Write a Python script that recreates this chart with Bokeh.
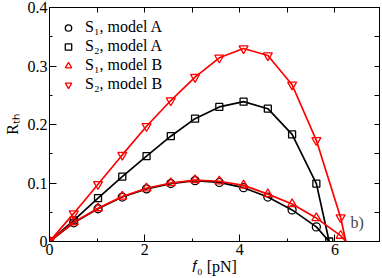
from bokeh.plotting import figure
from bokeh.models import Range1d, LinearAxis, FixedTicker, Legend, LegendItem, Label
from bokeh.embed import file_html
from bokeh.resources import INLINE

# ---- data ----
f0 = [0.0, 0.51, 1.02, 1.53, 2.04, 2.55, 3.06, 3.57, 4.08, 4.59, 5.10, 5.61, 6.12]

s1_model_a = [0.0, 0.032, 0.056, 0.076, 0.090, 0.099, 0.104, 0.101, 0.092, 0.076, 0.054, 0.025]
s2_model_a = [0.0, 0.036, 0.074, 0.111, 0.146, 0.180, 0.210, 0.230, 0.239, 0.227, 0.183, 0.099]
s1_model_b = [0.0, 0.033, 0.057, 0.077, 0.091, 0.100, 0.105, 0.103, 0.096, 0.081, 0.064, 0.040, 0.010]
s2_model_b = [0.0, 0.048, 0.098, 0.148, 0.197, 0.241, 0.281, 0.314, 0.330, 0.318, 0.268, 0.173, 0.041]

f0_zero_model_a = 5.88   # where model A curves reach zero
f0_zero_model_b = 6.23   # where model B curves reach zero

x_ticks = [0, 2, 4, 6]
x_minor = [1, 3, 5]
y_ticks = [0.0, 0.1, 0.2, 0.3, 0.4]
y_tick_labels = ["0", "0.1", "0.2", "0.3", "0.4"]
y_minor = [0.05, 0.15, 0.25, 0.35]

legend_labels = ["S\u2081, model A", "S\u2082, model A", "S\u2081, model B", "S\u2082, model B"]
x_title = "\U0001D453\u2080 [pN]"
y_title = "R\u209c\u2095"
panel_tag = "b)"

FONT = "Liberation Serif"
RED = "#ff0000"
BLACK = "#000000"

p = figure(width=382, height=278, output_backend="svg", toolbar_location=None,
           x_range=Range1d(0, 6.9375), y_range=Range1d(0, 0.4),
           x_axis_type=None, y_axis_type=None,
           min_border_left=46, min_border_right=3, min_border_top=7, min_border_bottom=37)
p.outline_line_color = BLACK
p.background_fill_color = "white"


def base_axis(ticks, minor):
    ax = LinearAxis(ticker=FixedTicker(ticks=ticks, minor_ticks=minor))
    ax.major_tick_in = 7
    ax.major_tick_out = 0
    ax.minor_tick_in = 3
    ax.minor_tick_out = 0
    ax.axis_line_color = BLACK
    ax.major_tick_line_color = BLACK
    ax.minor_tick_line_color = BLACK
    ax.major_label_text_font = FONT
    ax.major_label_text_font_size = "16px"
    ax.major_label_text_color = BLACK
    ax.major_label_standoff = 2
    ax.axis_label_text_font = FONT
    ax.axis_label_text_font_size = "16px"
    ax.axis_label_text_font_style = "normal"
    ax.axis_label_text_color = BLACK
    ax.axis_label_standoff = 0
    return ax


xa = base_axis(x_ticks, x_minor)
xa.major_label_overrides = {t: str(t) for t in x_ticks}
xa.axis_label = x_title
p.add_layout(xa, "below")

ya = base_axis(y_ticks, y_minor)
ya.major_label_overrides = {t: lab for t, lab in zip(y_ticks, y_tick_labels)}
ya.axis_label = y_title
ya.axis_label_standoff = 4
p.add_layout(ya, "left")

# mirror axes: tick marks only
for ticks, minor, place in [(x_ticks, x_minor, "above"), (y_ticks, y_minor, "right")]:
    ax = base_axis([], sorted(list(ticks) + list(minor)))
    ax.minor_tick_in = 5
    ax.major_label_text_font_size = "0px"
    ax.major_label_standoff = 0
    p.add_layout(ax, place)

LW = 1.7
MLW = 1.3

# model A (black)
p.line(f0[:len(s1_model_a)] + [f0_zero_model_a], s1_model_a + [0.0], line_color=BLACK, line_width=LW)
p.line(f0[:len(s2_model_a)] + [f0_zero_model_a], s2_model_a + [0.0], line_color=BLACK, line_width=LW)
r1 = p.scatter(f0[:len(s1_model_a)], s1_model_a, marker="circle", size=8,
               fill_color=None, line_color=BLACK, line_width=MLW)
r2 = p.scatter(f0[:len(s2_model_a)] + [f0_zero_model_a], s2_model_a + [0.0], marker="square", size=7,
               fill_color=None, line_color=BLACK, line_width=MLW)

# model B (red)
p.line(f0 + [f0_zero_model_b], s1_model_b + [0.0], line_color=RED, line_width=LW)
p.line(f0 + [f0_zero_model_b], s2_model_b + [0.0], line_color=RED, line_width=LW)
r3 = p.scatter(f0, s1_model_b, marker="triangle", size=9,
               fill_color=None, line_color=RED, line_width=MLW)
r4 = p.scatter(f0, s2_model_b, marker="inverted_triangle", size=9,
               fill_color=None, line_color=RED, line_width=MLW)

legend = Legend(items=[LegendItem(label=legend_labels[i], renderers=[r]) for i, r in enumerate([r1, r2, r3, r4])],
                location="top_left", margin=0, padding=11,
                border_line_alpha=0, background_fill_alpha=0,
                glyph_width=16, glyph_height=17, label_height=17, label_standoff=9, spacing=1,
                label_text_font=FONT, label_text_font_size="16px", label_text_color=BLACK)
p.add_layout(legend)

p.add_layout(Label(x=6.33, y=0.033, text=panel_tag, text_font=FONT,
                   text_font_size="16px", text_align="left", text_baseline="alphabetic"))

open("out.html", "w").write(file_html(p, INLINE))
